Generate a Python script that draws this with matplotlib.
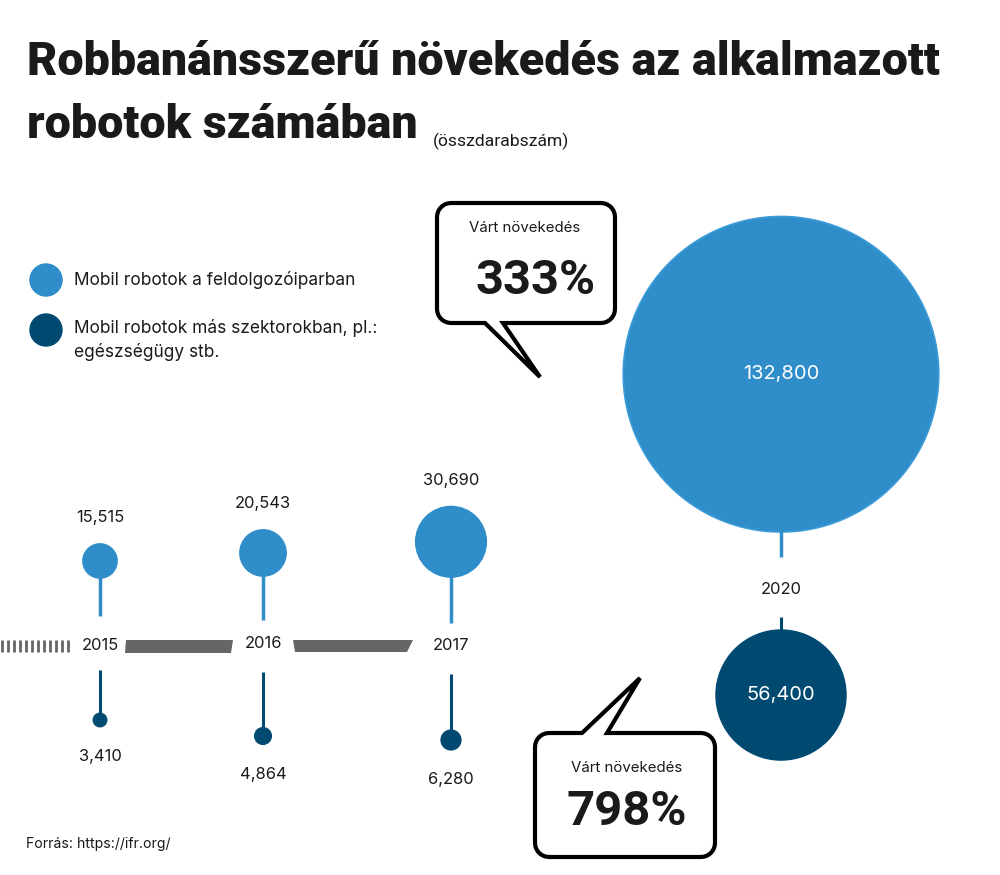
import numpy as np
import matplotlib.pyplot as plt
from matplotlib.patches import Circle, Polygon, PathPatch
from matplotlib.path import Path

# --- data ---
years = ["2015", "2016", "2017", "2020"]
manufacturing = [15515, 20543, 30690, 132800]
other_sectors = [3410, 4864, 6280, 56400]
growth_labels = ["333%", "798%"]
legend_labels = ["Mobil robotok a feldolgozóiparban",
                 "Mobil robotok más szektorokban, pl.:\negészségügy stb."]

LIGHT = "#2F8DC9"
DARK = "#004A72"
GREY = "#666666"
TXT = "#1a1a1a"

# --- layout (pixel space, y down) ---
year_x = [100, 263, 451, 781]
year_y = [645, 644, 646, 589]
light_base = [578, 576, 577, 532]     # bottom of light circle
light_stem_end = [616, 620, 623, 557]
dark_stem_top = [670, 672, 674, 617]
dark_stem_len = [50, 64, 66, 13]


def light_r(v):
    # circles are sized roughly linearly to the value
    return 0.0012 * v - 1.6


def dark_r(v):
    return 0.0011 * v + 3


def px(p):
    return p * 0.72


fig = plt.figure(figsize=(10, 8.75), dpi=100)
ax = fig.add_axes([0, 0, 1, 1])
ax.set_xlim(0, 1000)
ax.set_ylim(875, 0)
ax.axis("off")

# title
ax.text(27, 62, "Robbanánsszerű növekedés az alkalmazott", fontsize=px(46.6),
        fontweight="black", family="Roboto", color=TXT, va="center")
ax.text(27, 125, "robotok számában", fontsize=px(46.6), fontweight="black",
        family="Roboto", color=TXT, va="center")
ax.text(433, 141, "(összdarabszám)", fontsize=px(17.5), family="Roboto",
        color=TXT, va="center")

# legend
ax.add_patch(Circle((46, 280), 16, color=LIGHT))
ax.add_patch(Circle((46, 330), 16, color=DARK))
ax.text(74, 280, legend_labels[0], fontsize=px(17.3), family="Inter",
        color=TXT, va="center")
ax.text(74, 340, legend_labels[1], fontsize=px(17.3), family="Inter",
        color=TXT, va="center", linespacing=1.45)

# timeline decoration
for x in np.arange(2, 74, 6):
    ax.plot([x, x], [640, 652], color=GREY, lw=2, solid_capstyle="butt")
ax.add_patch(Polygon([(126, 640), (233, 640), (231, 653), (125, 653)],
                     closed=True, color=GREY, lw=0))
ax.add_patch(Polygon([(293, 640), (413, 640), (407, 652), (295, 652)],
                     closed=True, color=GREY, lw=0))

# bubbles
for i, yr in enumerate(years):
    x = year_x[i]
    rl = light_r(manufacturing[i])
    cy = light_base[i] - rl
    ax.plot([x, x], [light_base[i] - 2, light_stem_end[i]], color=LIGHT,
            lw=2.5, solid_capstyle="butt")
    ax.add_patch(Circle((x, cy), rl, facecolor=LIGHT,
                        edgecolor="#3C9AD8" if i == 3 else LIGHT, lw=1.2))
    ax.text(x, year_y[i], yr, fontsize=px(16.5), family="Inter", color=TXT,
            ha="center", va="center")

    rd = dark_r(other_sectors[i])
    top = dark_stem_top[i]
    ax.plot([x, x], [top, top + dark_stem_len[i] + 2], color=DARK,
            lw=2.2, solid_capstyle="butt")
    if i < 3:
        dy = top + dark_stem_len[i]
        ax.add_patch(Circle((x, dy), rd, color=DARK))
        ax.text(x, cy - rl - 26, f"{manufacturing[i]:,}", fontsize=px(16.5),
                family="Inter", color=TXT, ha="center", va="center")
        ax.text(x, dy + rd + 30, f"{other_sectors[i]:,}", fontsize=px(16.5),
                family="Inter", color=TXT, ha="center", va="center")
    else:
        dy = top + dark_stem_len[i] + rd
        ax.add_patch(Circle((x, dy), rd, color=DARK))
        ax.text(x, cy, f"{manufacturing[i]:,}", fontsize=px(20),
                family="Inter", color="white", ha="center", va="center")
        ax.text(x, dy, f"{other_sectors[i]:,}", fontsize=px(20),
                family="Inter", color="white", ha="center", va="center")


def callout(x0, y0, x1, y1, r, tail, side):
    """rounded box with a speech tail on the bottom or top edge"""
    verts = []

    def arc(cx, cy, a0, a1):
        for a in np.linspace(np.radians(a0), np.radians(a1), 8):
            verts.append((cx + r * np.cos(a), cy + r * np.sin(a)))

    # clockwise on screen (y down): top edge left->right
    arc(x0 + r, y0 + r, 180, 270)
    if side == "top":
        verts.extend(tail)
    arc(x1 - r, y0 + r, 270, 360)
    arc(x1 - r, y1 - r, 0, 90)
    if side == "bottom":
        verts.extend(tail)
    arc(x0 + r, y1 - r, 90, 180)
    verts.append(verts[0])
    codes = [Path.MOVETO] + [Path.LINETO] * (len(verts) - 2) + [Path.CLOSEPOLY]
    ax.add_patch(PathPatch(Path(verts, codes), facecolor="white",
                           edgecolor="black", lw=3, joinstyle="miter"))


callout(437, 203, 615, 323, 14, [(503, 323), (540, 377), (485, 323)], "bottom")
callout(535, 733, 715, 857, 14, [(582, 733), (640, 678), (607, 733)], "top")

ax.text(525, 228, "Várt növekedés", fontsize=px(15), family="Inter",
        color=TXT, ha="center", va="center")
ax.text(536, 281, growth_labels[0], fontsize=px(49), fontweight="bold",
        family="Roboto", color=TXT, ha="center", va="center")
ax.text(627, 768, "Várt növekedés", fontsize=px(15), family="Inter",
        color=TXT, ha="center", va="center")
ax.text(627, 812, growth_labels[1], fontsize=px(49), fontweight="bold",
        family="Roboto", color=TXT, ha="center", va="center")

ax.text(26, 844, "Forrás: https://ifr.org/", fontsize=px(14), family="Inter",
        color=TXT, va="center")

fig.savefig("out.png", dpi=100, facecolor="white")
